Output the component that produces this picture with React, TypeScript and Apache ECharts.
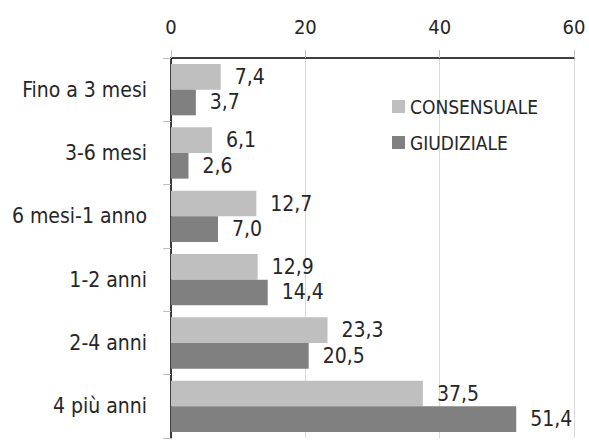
import React, { useEffect, useRef } from "react";
import * as echarts from "echarts";

const categories = ["Fino a 3 mesi", "3-6 mesi", "6 mesi-1 anno", "1-2 anni", "2-4 anni", "4 più anni"];
const consensuale = [7.4, 6.1, 12.7, 12.9, 23.3, 37.5];
const giudiziale = [3.7, 2.6, 7.0, 14.4, 20.5, 51.4];
const tickValues = [0, 20, 40, 60];

const FONT = "'DejaVu Sans Condensed', 'Liberation Sans', sans-serif";
const TXT = "#262626";

export default function App() {
  const ref = useRef<HTMLDivElement>(null);
  useEffect(() => {
    if (!ref.current) return;
    const chart = echarts.init(ref.current, null, { renderer: "svg" });
    const fmt = (p: any) => p.value.toFixed(1).replace(".", ",");
    chart.setOption({
      animation: false,
      textStyle: { fontFamily: FONT },
      grid: { left: 171, right: 15, top: 58, bottom: 2 },
      legend: {
        orient: "vertical",
        left: 392,
        top: 97,
        padding: 0,
        itemWidth: 13,
        itemHeight: 13,
        itemGap: 17,
        icon: "rect",
        textStyle: { fontFamily: FONT, fontSize: 19, color: TXT, padding: [0, 0, 0, 0] },
        data: ["CONSENSUALE", "GIUDIZIALE"],
      },
      xAxis: {
        type: "value",
        position: "top",
        min: tickValues[0],
        max: tickValues[tickValues.length - 1],
        interval: 20,
        axisLine: { show: true, lineStyle: { color: "#000", width: 1.5 } },
        axisTick: { show: true, length: 8, lineStyle: { color: "#bfbfbf" } },
        splitLine: { show: true, lineStyle: { color: "#d9d9d9" } },
        axisLabel: { fontSize: 20, color: TXT, margin: 21, fontFamily: FONT },
      },
      yAxis: {
        type: "category",
        inverse: true,
        data: categories,
        axisLine: { show: true, lineStyle: { color: "#000", width: 1.5 } },
        axisTick: { show: true, length: 8, lineStyle: { color: "#bfbfbf" } },
        axisLabel: { fontSize: 21, color: TXT, margin: 24, fontFamily: FONT },
      },
      series: [
        {
          name: "CONSENSUALE",
          type: "bar",
          data: consensuale,
          barGap: "0%",
          barCategoryGap: "19%",
          itemStyle: { color: "#bfbfbf" },
          label: { show: true, position: "right", distance: 14, formatter: fmt, fontSize: 21, color: TXT, fontFamily: FONT },
        },
        {
          name: "GIUDIZIALE",
          type: "bar",
          data: giudiziale,
          itemStyle: { color: "#808080" },
          label: { show: true, position: "right", distance: 14, formatter: fmt, fontSize: 21, color: TXT, fontFamily: FONT },
        },
      ],
    });
    return () => chart.dispose();
  }, []);
  return <div ref={ref} style={{ width: 589, height: 440, position: "absolute", left: 0, top: 0 }} />;
}
